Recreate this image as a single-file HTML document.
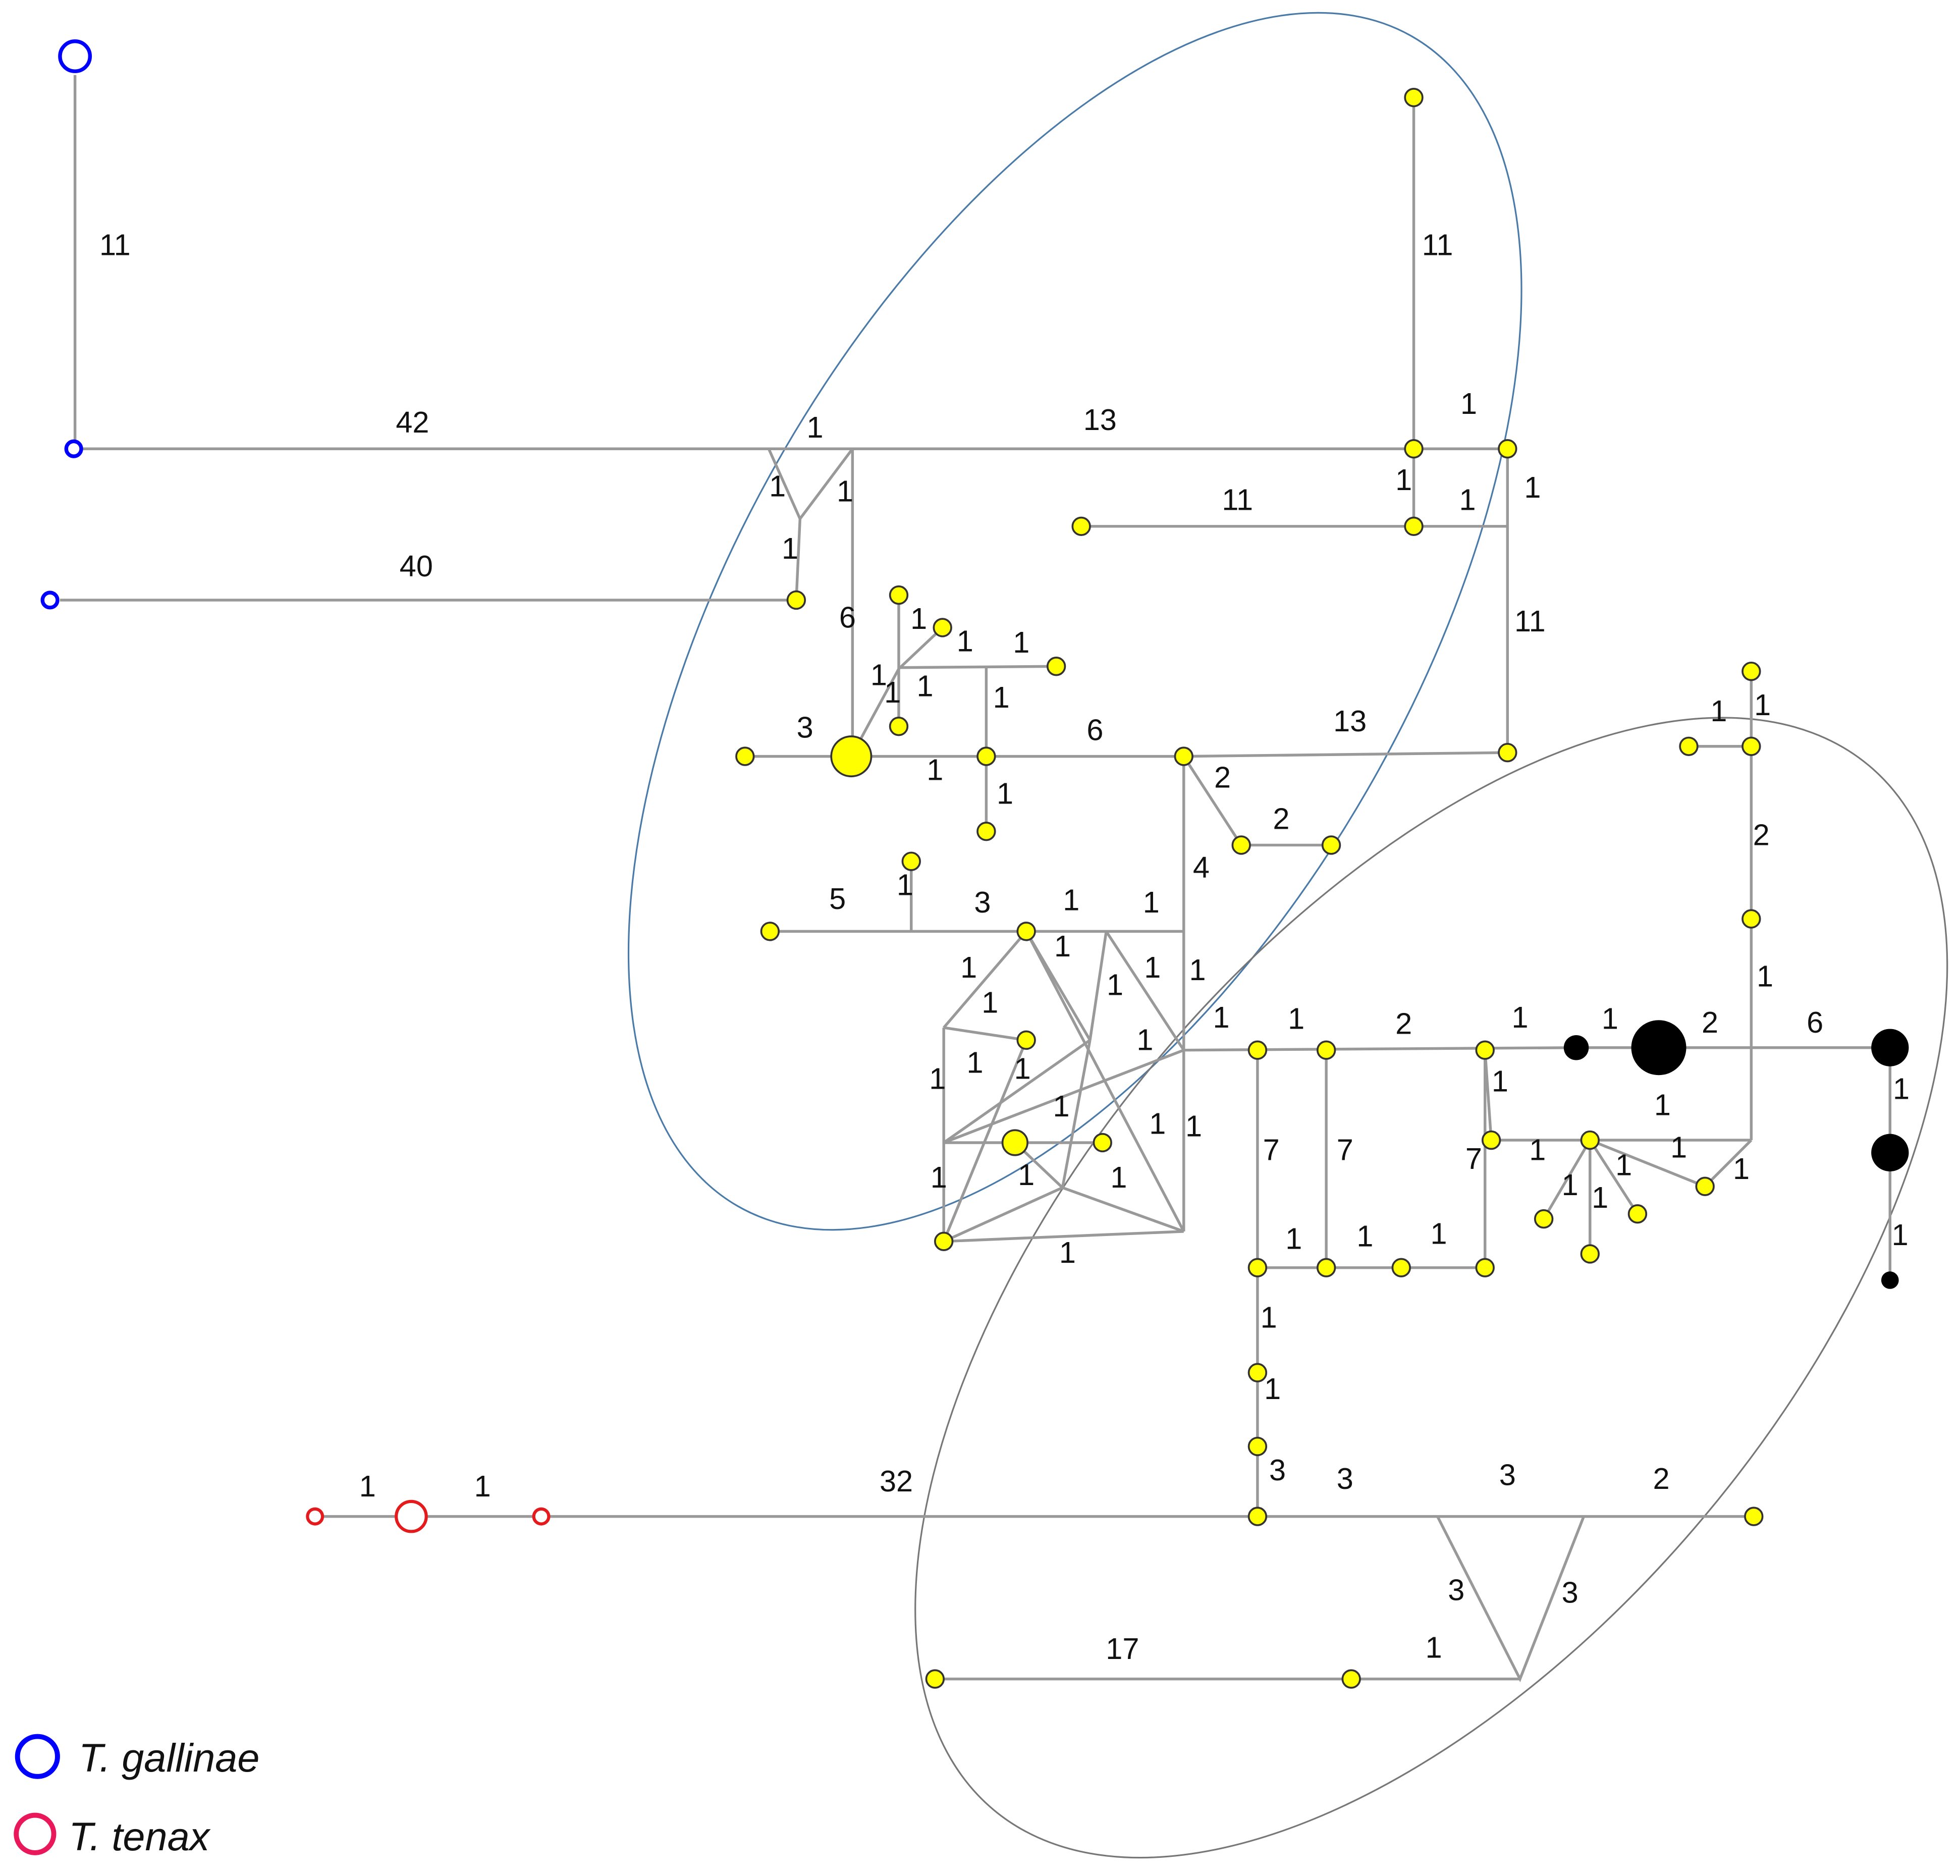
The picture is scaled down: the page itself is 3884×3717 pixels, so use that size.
<!DOCTYPE html>
<html><head><style>html,body{margin:0;padding:0;background:#fff;width:3884px;height:3717px;overflow:hidden}svg{display:block;position:absolute;left:0;top:0}</style></head>
<body>
<svg width="3884" height="3717" viewBox="0 0 1568 1500.6" preserveAspectRatio="none" xmlns="http://www.w3.org/2000/svg">
<rect width="1568" height="1501" fill="#fff"/>
<g fill="none">
<ellipse cx="860" cy="497" rx="540" ry="270" transform="rotate(-60 860 497)" stroke="#4a7aa8" stroke-width="1.3"/>
<ellipse cx="1145" cy="1030" rx="545" ry="285" transform="rotate(-50 1145 1030)" stroke="#777" stroke-width="1.3"/>
</g>
<g stroke="#999" stroke-width="2.2" fill="none">
<line x1="60" y1="60" x2="60" y2="352"/>
<line x1="66" y1="359" x2="1206" y2="359"/>
<polyline points="615,359 640,415 682,359"/>
<line x1="640" y1="415" x2="637" y2="480"/>
<line x1="48" y1="480" x2="637" y2="480"/>
<line x1="682" y1="359" x2="682" y2="605"/>
<line x1="1131" y1="78" x2="1131" y2="421"/>
<line x1="865" y1="421" x2="1206" y2="421"/>
<line x1="1206" y1="359" x2="1206" y2="602"/>
<line x1="596" y1="605" x2="947" y2="605"/>
<line x1="947" y1="605" x2="1206" y2="602"/>
<line x1="681" y1="605" x2="719" y2="535"/>
<line x1="719" y1="476" x2="719" y2="581"/>
<line x1="719" y1="535" x2="754" y2="502"/>
<line x1="719" y1="534" x2="845" y2="533"/>
<line x1="789" y1="533" x2="789" y2="665"/>
<polyline points="947,605 993,676 1065,676"/>
<line x1="947" y1="605" x2="947" y2="985"/>
<line x1="616" y1="745" x2="947" y2="745"/>
<line x1="729" y1="689" x2="729" y2="745"/>
<line x1="755" y1="822" x2="755" y2="993"/>
<line x1="755" y1="822" x2="821" y2="745"/>
<line x1="755" y1="822" x2="821" y2="832"/>
<line x1="821" y1="745" x2="947" y2="985"/>
<line x1="885" y1="745" x2="947" y2="840"/>
<line x1="885" y1="745" x2="872" y2="832"/>
<line x1="821" y1="745" x2="872" y2="832"/>
<line x1="872" y1="832" x2="755" y2="914"/>
<line x1="872" y1="832" x2="850" y2="950"/>
<line x1="755" y1="914" x2="947" y2="840"/>
<line x1="755" y1="914" x2="882" y2="914"/>
<line x1="755" y1="993" x2="850" y2="950"/>
<line x1="850" y1="950" x2="947" y2="985"/>
<line x1="755" y1="993" x2="947" y2="985"/>
<line x1="755" y1="993" x2="821" y2="832"/>
<line x1="812" y1="914" x2="850" y2="950"/>
<line x1="947" y1="840" x2="1261" y2="838"/>
<line x1="1261" y1="838" x2="1512" y2="838"/>
<line x1="1512" y1="838" x2="1512" y2="1024"/>
<line x1="1401" y1="537" x2="1401" y2="912"/>
<line x1="1351" y1="597" x2="1401" y2="597"/>
<line x1="1193" y1="912" x2="1401" y2="912"/>
<line x1="1188" y1="840" x2="1193" y2="912"/>
<line x1="1188" y1="840" x2="1188" y2="1014"/>
<line x1="1364" y1="949" x2="1401" y2="912"/>
<line x1="1272" y1="912" x2="1364" y2="949"/>
<line x1="1272" y1="912" x2="1235" y2="975"/>
<line x1="1272" y1="912" x2="1272" y2="1003"/>
<line x1="1272" y1="912" x2="1310" y2="971"/>
<line x1="1006" y1="840" x2="1006" y2="1213"/>
<line x1="1061" y1="840" x2="1061" y2="1014"/>
<line x1="1006" y1="1014" x2="1188" y2="1014"/>
<line x1="252" y1="1213" x2="1403" y2="1213"/>
<polyline points="1150,1213 1216,1343 1267,1213"/>
<line x1="748" y1="1343" x2="1216" y2="1343"/>
</g>
<g fill="#ffff00" stroke="#333" stroke-width="1.5">
<circle cx="1131" cy="78" r="7"/><circle cx="1131" cy="359" r="7"/><circle cx="1206" cy="359" r="7"/>
<circle cx="865" cy="421" r="7"/><circle cx="1131" cy="421" r="7"/><circle cx="637" cy="480" r="7"/>
<circle cx="719" cy="476" r="7"/><circle cx="754" cy="502" r="7"/><circle cx="845" cy="533" r="7"/>
<circle cx="719" cy="581" r="7"/><circle cx="596" cy="605" r="7"/><circle cx="789" cy="605" r="7"/>
<circle cx="789" cy="665" r="7"/><circle cx="947" cy="605" r="7"/><circle cx="1206" cy="602" r="7"/>
<circle cx="993" cy="676" r="7"/><circle cx="1065" cy="676" r="7"/><circle cx="729" cy="689" r="7"/>
<circle cx="616" cy="745" r="7"/><circle cx="821" cy="745" r="7"/><circle cx="821" cy="832" r="7"/>
<circle cx="882" cy="914" r="7"/><circle cx="755" cy="993" r="7"/><circle cx="1006" cy="840" r="7"/>
<circle cx="1061" cy="840" r="7"/><circle cx="1188" cy="840" r="7"/><circle cx="1193" cy="912" r="7"/>
<circle cx="1272" cy="912" r="7"/><circle cx="1235" cy="975" r="7"/><circle cx="1272" cy="1003" r="7"/>
<circle cx="1310" cy="971" r="7"/><circle cx="1364" cy="949" r="7"/><circle cx="1401" cy="537" r="7"/>
<circle cx="1351" cy="597" r="7"/><circle cx="1401" cy="597" r="7"/><circle cx="1401" cy="735" r="7"/>
<circle cx="1006" cy="1014" r="7"/><circle cx="1061" cy="1014" r="7"/><circle cx="1121" cy="1014" r="7"/>
<circle cx="1188" cy="1014" r="7"/><circle cx="1006" cy="1098" r="7"/><circle cx="1006" cy="1157" r="7"/>
<circle cx="1006" cy="1213" r="7"/><circle cx="1403" cy="1213" r="7"/><circle cx="748" cy="1343" r="7"/>
<circle cx="1081" cy="1343" r="7"/>
<circle cx="681" cy="605" r="16"/><circle cx="812" cy="914" r="10"/>
</g>
<g fill="#000">
<circle cx="1261" cy="838" r="10"/><circle cx="1327" cy="838" r="22"/><circle cx="1512" cy="838" r="15"/>
<circle cx="1512" cy="922" r="15"/><circle cx="1512" cy="1024" r="7"/>
</g>
<g fill="#fff" stroke="#0000ff" stroke-width="3">
<circle cx="60" cy="45" r="12"/><circle cx="59" cy="359" r="6"/><circle cx="40" cy="480" r="6"/>
</g>
<g fill="#fff" stroke="#e41a1c" stroke-width="2.5">
<circle cx="252" cy="1213" r="6"/><circle cx="329" cy="1213" r="12"/><circle cx="433" cy="1213" r="6"/>
</g>
<g font-family="Liberation Sans, sans-serif" font-size="24" fill="#111" text-anchor="middle">
<text x="92" y="204">11</text><text x="330" y="346">42</text><text x="880" y="344">13</text>
<text x="652" y="350">1</text><text x="622" y="397">1</text><text x="676" y="401">1</text>
<text x="632" y="447">1</text><text x="333" y="461">40</text><text x="678" y="502">6</text>
<text x="1150" y="204">11</text><text x="1175" y="331">1</text><text x="1123" y="392">1</text>
<text x="1174" y="408">1</text><text x="1226" y="398">1</text><text x="990" y="408">11</text>
<text x="1224" y="505">11</text><text x="735" y="503">1</text><text x="772" y="521">1</text>
<text x="817" y="522">1</text><text x="703" y="548">1</text><text x="740" y="557">1</text>
<text x="714" y="562">1</text><text x="801" y="566">1</text><text x="644" y="590">3</text>
<text x="748" y="624">1</text><text x="876" y="592">6</text><text x="1080" y="585">13</text>
<text x="804" y="643">1</text><text x="978" y="630">2</text><text x="1025" y="663">2</text>
<text x="961" y="702">4</text><text x="670" y="727">5</text><text x="724" y="716">1</text>
<text x="786" y="730">3</text><text x="857" y="728">1</text><text x="921" y="730">1</text>
<text x="850" y="765">1</text><text x="775" y="782">1</text><text x="922" y="782">1</text>
<text x="958" y="784">1</text><text x="892" y="796">1</text><text x="792" y="810">1</text>
<text x="977" y="822">1</text><text x="916" y="840">1</text><text x="780" y="858">1</text>
<text x="750" y="871">1</text><text x="818" y="863">1</text><text x="849" y="893">1</text>
<text x="926" y="907">1</text><text x="955" y="909">1</text><text x="751" y="950">1</text>
<text x="821" y="948">1</text><text x="895" y="950">1</text><text x="854" y="1010">1</text>
<text x="1037" y="823">1</text><text x="1123" y="827">2</text><text x="1216" y="822">1</text>
<text x="1288" y="823">1</text><text x="1368" y="826">2</text><text x="1452" y="826">6</text>
<text x="1200" y="873">1</text><text x="1521" y="879">1</text><text x="1330" y="892">1</text>
<text x="1017" y="928">7</text><text x="1076" y="928">7</text><text x="1179" y="935">7</text>
<text x="1230" y="928">1</text><text x="1343" y="926">1</text><text x="1299" y="940">1</text>
<text x="1256" y="956">1</text><text x="1280" y="966">1</text><text x="1393" y="943">1</text>
<text x="1520" y="996">1</text><text x="1035" y="999">1</text><text x="1092" y="997">1</text>
<text x="1151" y="995">1</text><text x="1015" y="1062">1</text><text x="1018" y="1119">1</text>
<text x="1375" y="577">1</text><text x="1410" y="572">1</text><text x="1409" y="676">2</text>
<text x="1412" y="789">1</text>
<text x="294" y="1197">1</text><text x="386" y="1197">1</text><text x="717" y="1193">32</text>
<text x="1022" y="1184">3</text><text x="1076" y="1191">3</text><text x="1206" y="1188">3</text>
<text x="1329" y="1191">2</text><text x="1165" y="1280">3</text><text x="1256" y="1282">3</text>
<text x="898" y="1327">17</text><text x="1147" y="1326">1</text>
</g>
<circle cx="30" cy="1405" r="16" fill="#fff" stroke="#0000ff" stroke-width="4"/>
<circle cx="28" cy="1467" r="15" fill="#fff" stroke="#e8185a" stroke-width="4"/>
<g font-family="Liberation Sans, sans-serif" font-size="32" font-style="italic" fill="#111">
<text x="63" y="1417">T. gallinae</text><text x="55" y="1480">T. tenax</text>
</g>
</svg>
</body></html>
